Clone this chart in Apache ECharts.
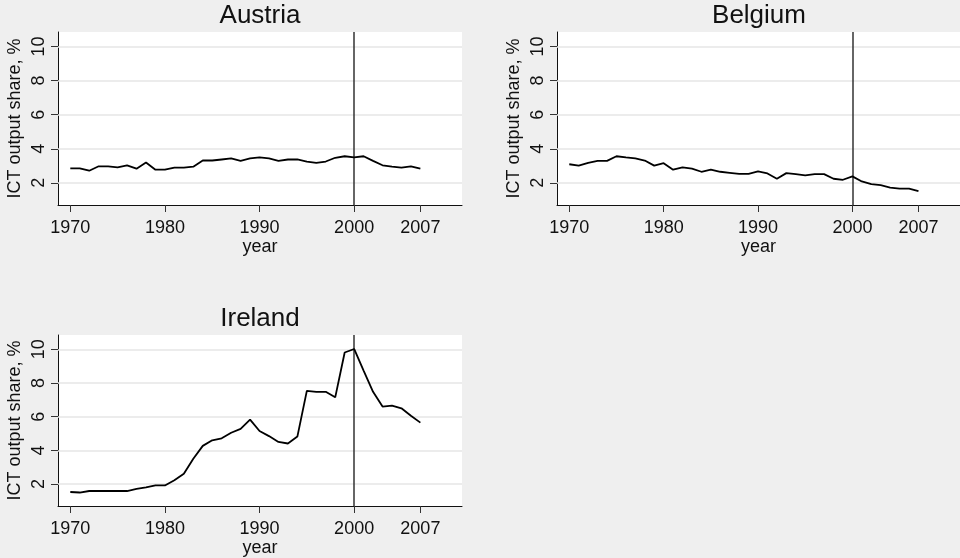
<!DOCTYPE html>
<html>
<head>
<meta charset="utf-8">
<script src="https://cdn.jsdelivr.net/npm/echarts@6/dist/echarts.min.js"></script>
<style>
  html, body { margin: 0; padding: 0; background: #efefef; }
  #main { width: 960px; height: 558px; }
</style>
</head>
<body>
<div id="main"></div>
<script>
// data
const years = [1970, 1971, 1972, 1973, 1974, 1975, 1976, 1977, 1978, 1979,
  1980, 1981, 1982, 1983, 1984, 1985, 1986, 1987, 1988, 1989,
  1990, 1991, 1992, 1993, 1994, 1995, 1996, 1997, 1998, 1999,
  2000, 2001, 2002, 2003, 2004, 2005, 2006, 2007];

const austria = [2.85, 2.85, 2.71, 2.97, 2.97, 2.91, 3.03, 2.83, 3.19, 2.77,
  2.77, 2.89, 2.89, 2.95, 3.31, 3.31, 3.37, 3.43, 3.29, 3.43,
  3.49, 3.43, 3.29, 3.37, 3.37, 3.25, 3.17, 3.25, 3.47, 3.56,
  3.49, 3.56, 3.29, 3.03, 2.95, 2.89, 2.97, 2.83];

const belgium = [3.09, 3.01, 3.17, 3.29, 3.29, 3.56, 3.49, 3.43, 3.31, 3.01,
  3.15, 2.77, 2.91, 2.83, 2.65, 2.77, 2.65, 2.59, 2.53, 2.53,
  2.67, 2.55, 2.24, 2.57, 2.51, 2.44, 2.51, 2.51, 2.24, 2.18,
  2.38, 2.08, 1.92, 1.86, 1.72, 1.66, 1.66, 1.52];

const ireland = [1.53, 1.50, 1.59, 1.59, 1.59, 1.59, 1.59, 1.71, 1.81, 1.92,
  1.92, 2.23, 2.62, 3.50, 4.27, 4.60, 4.72, 5.05, 5.28, 5.83,
  5.15, 4.85, 4.50, 4.41, 4.82, 7.53, 7.48, 7.48, 7.15, 9.81,
  10.02, 8.74, 7.48, 6.60, 6.66, 6.50, 6.06, 5.65];

const countries = ['Austria', 'Belgium', 'Ireland'];
const xTicks = [1970, 1980, 1990, 2000, 2007];
const yTicks = [2, 4, 6, 8, 10];
const refYear = 2000;

const font = 'Liberation Sans, Arial, Helvetica, sans-serif';

// panel boxes in pixels
const panels = [
  { left: 58, top: 32, width: 404, height: 173 },
  { left: 557, top: 32, width: 404, height: 173 },
  { left: 58, top: 335, width: 404, height: 173 }
];

const myChart = echarts.init(document.getElementById('main'));

const grids = panels.map(p => ({
  left: p.left, top: p.top, width: p.width, height: p.height,
  show: true, backgroundColor: '#ffffff', borderWidth: 0
}));

const xAxes = panels.map((p, i) => ({
  gridIndex: i,
  type: 'value',
  min: 1968.7,
  max: 2011.4,
  name: 'year',
  nameLocation: 'middle',
  nameGap: 33,
  nameTextStyle: { fontFamily: font, fontSize: 18, color: '#111' },
  axisLine: { onZero: false, lineStyle: { color: '#111', width: 1 } },
  axisTick: { customValues: xTicks, length: 7, lineStyle: { color: '#333' } },
  axisLabel: {
    customValues: xTicks, margin: 14, fontFamily: font, fontSize: 18, color: '#111',
    formatter: v => String(v)
  },
  splitLine: { show: false }
}));

const yAxes = panels.map((p, i) => ({
  gridIndex: i,
  type: 'value',
  min: 0.7,
  max: 10.85,
  name: 'ICT output share, %',
  nameLocation: 'middle',
  nameGap: 34,
  nameTextStyle: { fontFamily: font, fontSize: 18, color: '#111' },
  axisLine: { show: true, lineStyle: { color: '#111', width: 1 } },
  axisTick: { show: true, customValues: yTicks, length: 7, lineStyle: { color: '#333' } },
  axisLabel: {
    customValues: yTicks, rotate: 90, margin: 10, fontFamily: font, fontSize: 18, color: '#111',
    formatter: v => String(v)
  },
  splitLine: { show: false }
}));

const allData = [austria, belgium, ireland];
const series = [];
allData.forEach((vals, i) => {
  // horizontal grid lines behind the data
  series.push({
    type: 'line',
    xAxisIndex: i, yAxisIndex: i,
    data: [],
    z: 1,
    silent: true,
    markLine: {
      z: 1,
      silent: true,
      symbol: 'none',
      label: { show: false },
      lineStyle: { color: '#e6e6e6', width: 1.6, type: 'solid' },
      data: yTicks.map(v => ({ yAxis: v }))
    }
  });
  // vertical reference line at 2000
  series.push({
    type: 'line',
    xAxisIndex: i, yAxisIndex: i,
    data: [],
    z: 2,
    silent: true,
    markLine: {
      z: 2,
      silent: true,
      symbol: 'none',
      label: { show: false },
      lineStyle: { color: '#333', width: 1.5, type: 'solid' },
      data: [{ xAxis: refYear }]
    }
  });
  series.push({
    name: countries[i],
    type: 'line',
    xAxisIndex: i, yAxisIndex: i,
    data: years.map((y, k) => [y, vals[k]]),
    showSymbol: false,
    z: 6,
    lineStyle: { color: '#000', width: 1.8 }
  });
});

myChart.setOption({
  backgroundColor: '#efefef',
  animation: false,
  title: countries.map((c, i) => ({
    text: c,
    left: panels[i].left + 202,
    top: panels[i].top - 29,
    textAlign: 'center',
    padding: 0,
    textStyle: { fontFamily: font, fontSize: 26, fontWeight: 'normal', color: '#111' }
  })),
  grid: grids,
  xAxis: xAxes,
  yAxis: yAxes,
  series: series
});
</script>
</body>
</html>
